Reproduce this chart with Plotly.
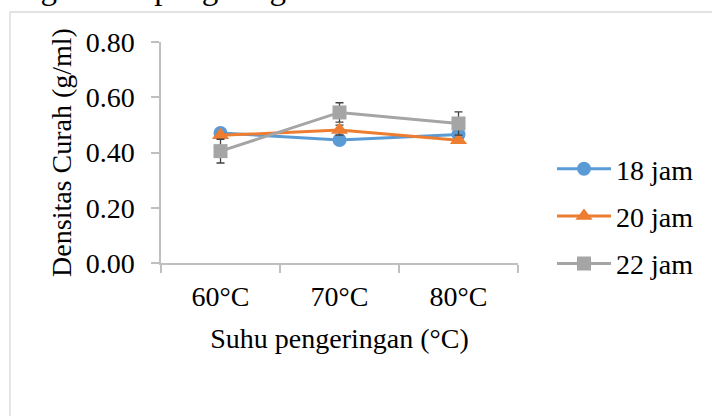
import plotly.graph_objects as go

categories = ["60°C", "70°C", "80°C"]
series_names = ["18 jam", "20 jam", "22 jam"]
values_18 = [0.471, 0.445, 0.465]
values_20 = [0.462, 0.481, 0.444]
values_22 = [0.405, 0.545, 0.505]
err_18 = [0.008, 0.008, 0.008]
err_20 = [0.008, 0.018, 0.008]
err_22 = [0.043, 0.035, 0.042]
y_ticks = [0.0, 0.2, 0.4, 0.6, 0.8]
y_tick_labels = ["0.00", "0.20", "0.40", "0.60", "0.80"]

colors = ["#5B9BD5", "#ED7D31", "#A5A5A5"]
symbols = ["circle", "triangle-up", "square"]
sizes = [14, 15, 14]
FONT = "Liberation Serif, Times New Roman, serif"
FS = 28

W, H = 712, 416
L, R, T, B = 161, 712 - 518, 42, 416 - 263

fig = go.Figure()
for name, vals, errs, c, s, sz in zip(series_names, [values_18, values_20, values_22],
                                      [err_18, err_20, err_22], colors, symbols, sizes):
    fig.add_trace(go.Scatter(
        x=categories, y=vals, name=name, mode="lines+markers",
        line=dict(color=c, width=3),
        marker=dict(color=c, symbol=s, size=sz, line=dict(width=0)),
        error_y=dict(type="data", array=errs, visible=True, color="#404040",
                     thickness=1.3, width=4),
        legendgroup=name,
    ))

def px_x(X):
    return (X - L) / (W - L - R)

def px_y(Y):
    return (H - B - Y) / (H - T - B)

fig.add_shape(type="rect", xref="paper", yref="paper",
              x0=px_x(10), x1=px_x(730), y0=px_y(440), y1=px_y(12),
              line=dict(color="#D9D9D9", width=1.3), fillcolor="rgba(0,0,0,0)", layer="below")

fig.add_annotation(text="ng waktu pengeringan", xref="paper", yref="paper",
                   x=px_x(22), y=px_y(8), xanchor="left", yanchor="bottom",
                   showarrow=False, font=dict(family=FONT, size=33, color="black"))

fig.update_layout(
    width=W, height=H,
    margin=dict(l=L, r=R, t=T, b=B, autoexpand=False),
    paper_bgcolor="white", plot_bgcolor="white",
    font=dict(family=FONT, size=FS, color="black"),
    showlegend=True,
    legend=dict(x=px_x(552), y=px_y(144), xanchor="left", yanchor="top",
                font=dict(family=FONT, size=FS, color="black"),
                itemwidth=54, tracegroupgap=8, bgcolor="rgba(0,0,0,0)"),
    xaxis=dict(
        type="category", range=[-0.5, 2.5],
        showline=True, linecolor="#BFBFBF", linewidth=1.5,
        ticks="outside", ticklen=8, tickcolor="#BFBFBF", tickwidth=1.5,
        tickson="boundaries", showgrid=False, zeroline=False,
        tickfont=dict(family=FONT, size=FS), ticklabelstandoff=8,
        title=dict(text="Suhu pengeringan (°C)", font=dict(family=FONT, size=FS), standoff=17),
    ),
    yaxis=dict(
        range=[0, 0.8], tickvals=y_ticks, ticktext=y_tick_labels,
        showline=True, linecolor="#BFBFBF", linewidth=1.5,
        ticks="outside", ticklen=8, tickcolor="#BFBFBF", tickwidth=1.5,
        showgrid=False, zeroline=False,
        tickfont=dict(family=FONT, size=FS), ticklabelstandoff=11,
        title=dict(text="Densitas Curah (g/ml)", font=dict(family=FONT, size=FS), standoff=6),
    ),
)

fig.write_html("out.html")
